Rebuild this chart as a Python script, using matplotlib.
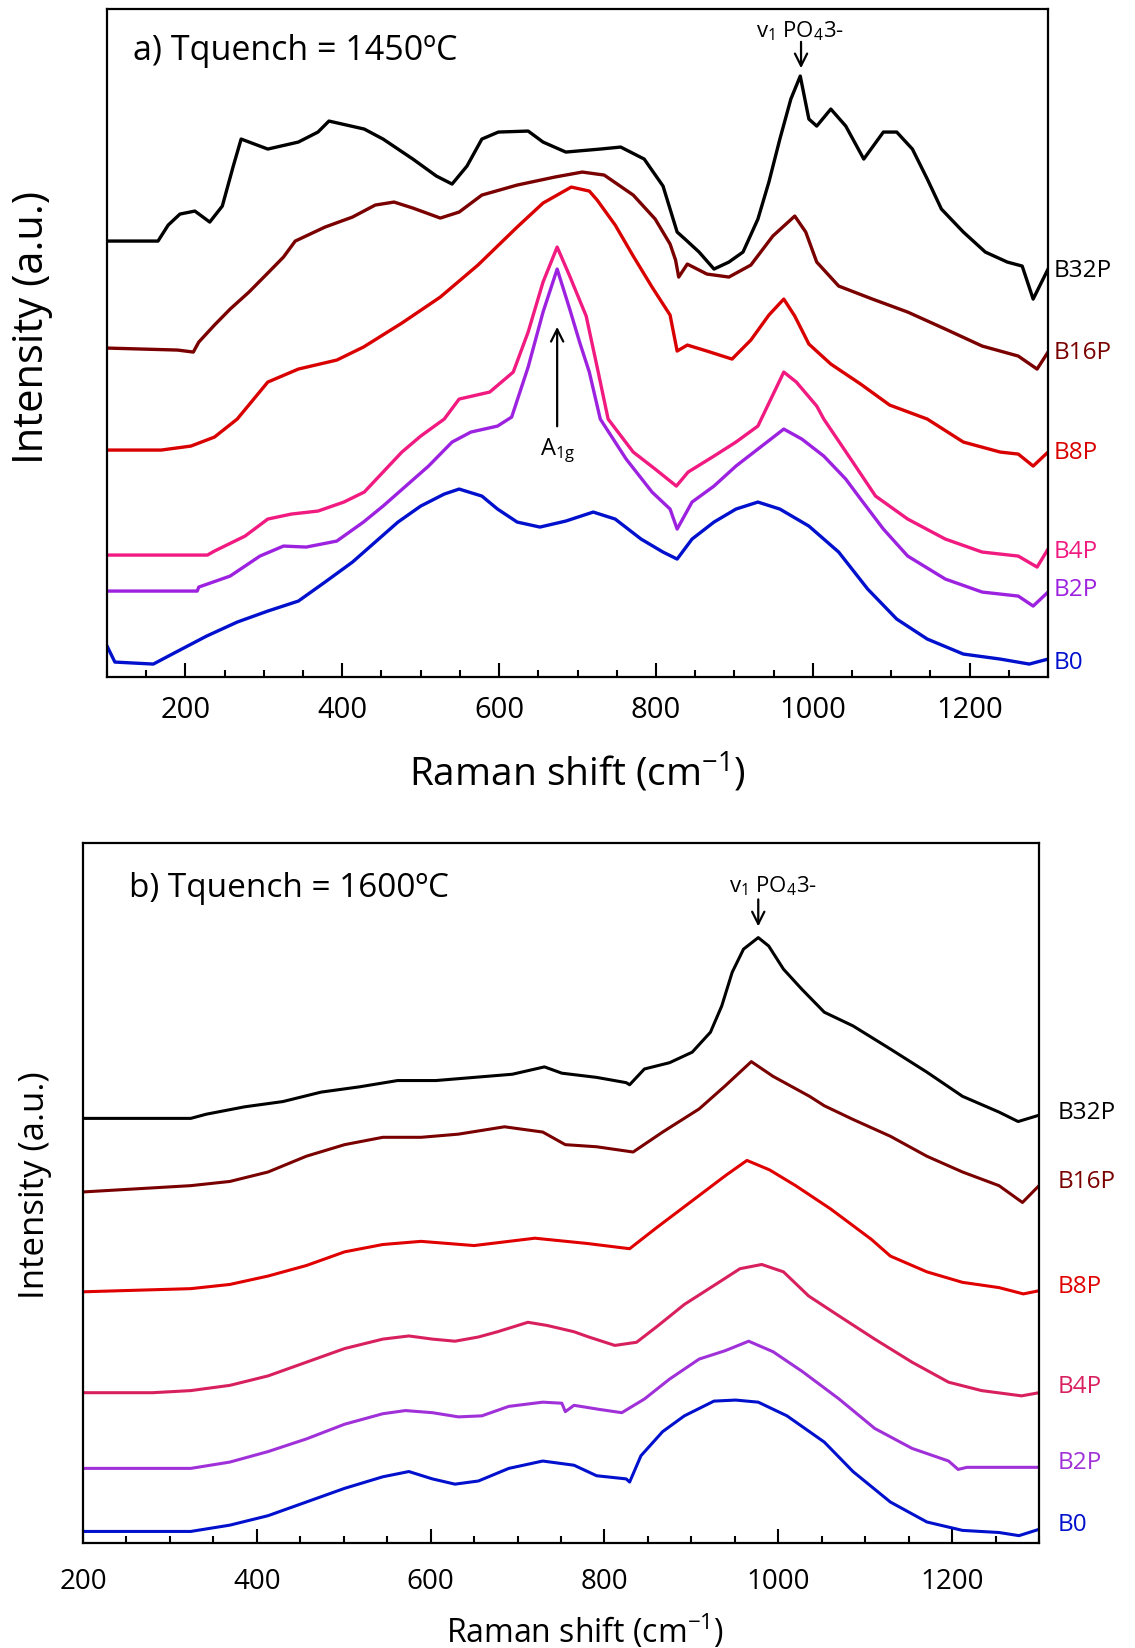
import matplotlib
matplotlib.use('Agg')
import matplotlib.pyplot as plt
from matplotlib.ticker import MultipleLocator
import matplotlib.transforms as mtransforms

plt.rcParams['font.family'] = ['Open Sans', 'DejaVu Sans']
plt.rcParams['mathtext.fontset'] = 'custom'
plt.rcParams['mathtext.rm'] = 'Open Sans'
plt.rcParams['mathtext.it'] = 'Open Sans:italic'
plt.rcParams['mathtext.bf'] = 'Open Sans:bold'

# ---------------- data: panel a (Tquench = 1450 C) ----------------
samples = ['B32P', 'B16P', 'B8P', 'B4P', 'B2P', 'B0']

a_B32P_x = [100, 165, 178, 193, 212, 231, 247, 261, 271, 305, 344, 369, 383, 428, 452, 490, 520, 540, 559, 578, 599,
            637, 656, 685, 729, 755, 785, 809, 827, 837, 855, 874, 893, 911, 930, 944, 958, 972, 984, 995, 1005,
            1023, 1042, 1065, 1090, 1107, 1127, 1146, 1164, 1192, 1220, 1248, 1267, 1281, 1300]
a_B32P_y = [436, 436, 452, 463, 466, 455, 471, 511, 538, 528, 535, 545, 556, 548, 538, 518, 501, 493, 511, 538, 545,
            546, 535, 525, 528, 530, 518, 491, 445, 438, 425, 408, 415, 425, 458, 495, 538, 578, 601, 558, 551,
            568, 551, 518, 545, 545, 528, 498, 468, 445, 425, 415, 411, 378, 408]

a_B16P_x = [100, 190, 210, 217, 237, 257, 281, 305, 325, 340, 378, 413, 442, 466, 490, 525, 549, 578, 623, 671,
            706, 734, 771, 799, 818, 825, 829, 840, 865, 893, 921, 949, 977, 991, 1005, 1033, 1076, 1121, 1169,
            1216, 1262, 1286, 1300]
a_B16P_y = [329, 327, 325, 335, 352, 368, 385, 404, 420, 436, 450, 460, 472, 475, 469, 459, 465, 482, 492, 500,
            505, 502, 482, 458, 433, 417, 400, 413, 403, 400, 412, 441, 461, 445, 415, 391, 378, 365, 348,
            331, 321, 308, 325]

a_B8P_x = [100, 169, 207, 237, 266, 305, 344, 393, 427, 476, 525, 573, 623, 656, 692, 715, 725, 748, 771, 795,
           818, 827, 840, 865, 897, 921, 944, 963, 977, 995, 1023, 1061, 1098, 1146, 1192, 1239, 1262, 1281, 1300]
a_B8P_y = [227, 227, 231, 240, 258, 295, 308, 317, 330, 354, 380, 412, 450, 474, 490, 486, 477, 452, 421, 390,
           362, 326, 332, 326, 318, 337, 362, 378, 361, 333, 313, 293, 272, 258, 235, 225, 223, 211, 225]

a_B4P_x = [100, 228, 237, 276, 305, 335, 369, 402, 428, 452, 476, 500, 530, 549, 588, 618, 637, 656, 674, 690,
           711, 725, 739, 771, 799, 826, 841, 874, 902, 930, 963, 979, 1005, 1014, 1051, 1080, 1121, 1169, 1216,
           1262, 1286, 1300]
a_B4P_y = [122, 122, 126, 141, 158, 163, 166, 175, 185, 205, 225, 241, 258, 278, 285, 305, 345, 395, 430, 401,
           361, 310, 258, 225, 208, 191, 205, 221, 235, 251, 305, 295, 271, 258, 215, 181, 158, 138, 125,
           121, 110, 128]

a_B2P_x = [100, 215, 217, 257, 295, 325, 354, 393, 427, 452, 481, 510, 540, 564, 598, 616, 637, 656, 674, 690,
           703, 715, 729, 762, 795, 818, 827, 846, 874, 902, 930, 963, 986, 1014, 1042, 1061, 1090, 1121, 1169,
           1216, 1262, 1281, 1300]
a_B2P_y = [86, 86, 90, 101, 121, 131, 130, 136, 155, 171, 191, 211, 235, 245, 251, 260, 310, 365, 408, 368,
           334, 305, 258, 218, 185, 168, 148, 175, 191, 211, 228, 248, 238, 221, 198, 178, 148, 121, 98,
           85, 81, 71, 85]

a_B0_x = [100, 110, 159, 188, 227, 266, 305, 344, 378, 413, 442, 471, 500, 530, 549, 578, 598, 623, 652, 685,
          720, 748, 781, 809, 827, 846, 874, 902, 930, 958, 995, 1033, 1070, 1107, 1146, 1192, 1239, 1276, 1300]
a_B0_y = [31, 15, 13, 25, 41, 55, 66, 76, 95, 115, 135, 155, 171, 183, 188, 181, 168, 155, 150, 156,
          165, 158, 138, 125, 118, 138, 155, 168, 175, 168, 151, 125, 88, 58, 38, 23, 18, 13, 18]

a_label_y = [407, 325, 225, 126, 88, 15]

# ---------------- data: panel b (Tquench = 1600 C) ----------------
b_B32P_x = [200, 324, 342, 386, 430, 474, 518, 562, 606, 650, 694, 731, 751, 791, 825, 829, 846, 875, 901, 922,
            935, 947, 960, 977, 989, 1006, 1027, 1053, 1086, 1129, 1171, 1212, 1254, 1276, 1300]
b_B32P_y = [404, 404, 408, 415, 420, 429, 434, 440, 440, 443, 446, 453, 447, 443, 438, 436, 451, 457, 467, 486,
            511, 543, 565, 576, 568, 546, 527, 505, 492, 470, 448, 425, 410, 401, 407]

b_B16P_x = [200, 324, 369, 413, 457, 501, 545, 589, 632, 685, 729, 755, 791, 833, 867, 909, 939, 969, 994, 1036,
            1053, 1086, 1129, 1171, 1212, 1254, 1281, 1300]
b_B16P_y = [334, 340, 344, 353, 368, 379, 386, 386, 389, 396, 391, 379, 377, 372, 391, 413, 435, 458, 444, 425,
            416, 403, 387, 368, 353, 340, 324, 340]

b_B8P_x = [200, 324, 369, 413, 457, 501, 545, 589, 650, 720, 780, 829, 860, 900, 940, 964, 990, 1020, 1060, 1107,
           1129, 1171, 1212, 1254, 1282, 1300]
b_B8P_y = [239, 242, 246, 254, 264, 277, 284, 287, 283, 290, 285, 280, 300, 325, 350, 364, 355, 340, 318, 289,
           273, 258, 248, 243, 237, 240]

b_B4P_x = [200, 280, 324, 369, 413, 457, 501, 545, 575, 602, 628, 655, 677, 712, 734, 765, 782, 812, 837, 862,
           892, 926, 956, 981, 1006, 1035, 1070, 1111, 1154, 1196, 1234, 1280, 1300]
b_B4P_y = [143, 143, 145, 150, 159, 172, 185, 194, 197, 194, 192, 196, 201, 210, 207, 201, 196, 188, 191, 207,
           227, 245, 261, 265, 258, 235, 216, 194, 172, 153, 145, 140, 143]

b_B2P_x = [200, 324, 369, 413, 457, 501, 545, 571, 602, 632, 659, 690, 729, 751, 755, 765, 795, 820, 846, 875,
           909, 939, 966, 994, 1028, 1070, 1111, 1154, 1196, 1207, 1217, 1300]
b_B2P_y = [71, 71, 77, 87, 99, 113, 123, 126, 124, 120, 121, 130, 134, 133, 125, 131, 127, 124, 137, 156,
           175, 183, 192, 182, 163, 137, 109, 90, 78, 70, 72, 72]

b_B0_x = [200, 324, 369, 413, 457, 501, 545, 575, 602, 628, 655, 690, 729, 765, 791, 825, 829, 842, 867, 892,
          926, 951, 977, 1010, 1053, 1086, 1129, 1171, 1212, 1254, 1277, 1300]
b_B0_y = [11, 11, 17, 26, 39, 52, 63, 68, 61, 56, 59, 71, 78, 74, 64, 61, 58, 83, 106, 121,
          135, 136, 134, 121, 96, 68, 39, 20, 12, 10, 7, 13]

b_label_y = [410, 344, 245, 149, 77, 18]

colors_a = ['#000000', '#7a0000', '#d90000', '#f01a80', '#9c22e0', '#0010cc']
colors_b = ['#000000', '#7a0000', '#e00000', '#d8205f', '#a030d8', '#0010cc']

series_a = [(a_B32P_x, a_B32P_y), (a_B16P_x, a_B16P_y), (a_B8P_x, a_B8P_y),
            (a_B4P_x, a_B4P_y), (a_B2P_x, a_B2P_y), (a_B0_x, a_B0_y)]
series_b = [(b_B32P_x, b_B32P_y), (b_B16P_x, b_B16P_y), (b_B8P_x, b_B8P_y),
            (b_B4P_x, b_B4P_y), (b_B2P_x, b_B2P_y), (b_B0_x, b_B0_y)]

# ---------------- figure ----------------
fig = plt.figure(figsize=(11.35, 16.49), dpi=100)
axA = fig.add_axes([0.0943, 0.5888, 0.8291, 0.4051])
axB = fig.add_axes([0.0731, 0.06367, 0.8423, 0.4245])


def style_axis(ax, xlim, ylim, labelsize, pad):
    ax.set_xlim(*xlim)
    ax.set_ylim(*ylim)
    ax.set_yticks([])
    ax.xaxis.set_major_locator(MultipleLocator(200))
    ax.xaxis.set_minor_locator(MultipleLocator(50))
    ax.tick_params(axis='x', which='major', direction='in', length=10, width=1.5,
                   labelsize=labelsize, pad=pad, top=False)
    ax.tick_params(axis='x', which='minor', direction='in', length=5, width=1.5, top=False)
    for sp in ax.spines.values():
        sp.set_linewidth(1.6)


style_axis(axA, (100, 1300), (0, 668), 21, 13)
style_axis(axB, (200, 1300), (0, 666), 20, 17)

for (x, y), c in zip(series_a, colors_a):
    axA.plot(x, y, color=c, lw=2.4)
for (x, y), c in zip(series_b, colors_b):
    axB.plot(x, y, color=c, lw=2.2)

transA = mtransforms.blended_transform_factory(axA.transAxes, axA.transData)
transB = mtransforms.blended_transform_factory(axB.transAxes, axB.transData)
for name, yv, c in zip(samples, a_label_y, colors_a):
    axA.text(1.006, yv, name, transform=transA, color=c, fontsize=17.5, ha='left', va='center')
for name, yv, c in zip(samples, b_label_y, colors_b):
    axB.text(1.019, yv, name, transform=transB, color=c, fontsize=17.5, ha='left', va='center')

axA.text(0.0276, 0.925, 'a) Tquench = 1450ºC', transform=axA.transAxes, fontsize=24.5, va='baseline')
axB.text(0.048, 0.924, 'b) Tquench = 1600ºC', transform=axB.transAxes, fontsize=24, va='baseline')

arrow_kw = dict(arrowstyle='->', lw=1.6, color='black', mutation_scale=22)
phos = r'v$_\mathregular{1}$ PO$_\mathregular{4}$3-'
axA.annotate('', xy=(985, 606), xytext=(985, 638), arrowprops=arrow_kw)
axA.text(984, 641, phos, ha='center', va='baseline', fontsize=16)
axA.annotate('', xy=(674, 353), xytext=(674, 248), arrowprops=arrow_kw)
axA.text(674, 223, r'A$_\mathregular{1g}$', ha='center', va='baseline', fontsize=17)

axB.annotate('', xy=(977, 584), xytext=(977, 615), arrowprops=arrow_kw)
axB.text(994, 620, phos, ha='center', va='baseline', fontsize=16)

xl = r'Raman shift (cm$^{\mathregular{-1}}$)'
axA.set_xlabel(xl, fontsize=28, va='center', ha='center')
axA.xaxis.set_label_coords(0.5, -95 / 668)
axA.set_ylabel('Intensity (a.u.)', fontsize=30, va='center', ha='center')
axA.yaxis.set_label_coords(-0.0797, 0.525)

axB.set_xlabel(xl, fontsize=23, va='center', ha='center')
axB.xaxis.set_label_coords(0.5246, -88 / 700)
axB.set_ylabel('Intensity (a.u.)', fontsize=25, va='center', ha='center')
axB.yaxis.set_label_coords(-0.0502, 0.512)

fig.savefig('out.png', dpi=100)
